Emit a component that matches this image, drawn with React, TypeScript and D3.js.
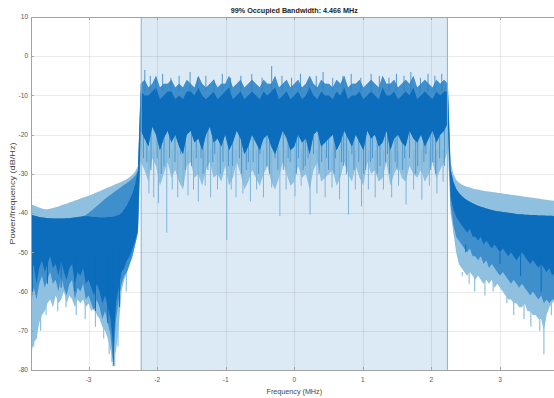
import React, { useEffect, useRef } from 'react';
import * as d3 from 'd3';

const W = 554;
const H = 398;

const titleText = '99% Occupied Bandwidth: 4.466 MHz';
const occupiedBw = 4.466;
const xTicks = [-3, -2, -1, 0, 1, 2, 3];
const yTicks = [10, 0, -10, -20, -30, -40, -50, -60, -70, -80];

// left skirt, f = -3.84 .. -2.28 (step 0.04)
const leftLightTop = [
	-37.8, -38.0, -38.3, -38.6, -38.8, -39.0, -39.0, -38.9, -38.7, -38.5,
	-38.3, -38.0, -37.8, -37.6, -37.3, -37.1, -36.8, -36.6, -36.3, -36.0,
	-35.8, -35.6, -35.3, -35.0, -34.7, -34.4, -34.1, -33.8, -33.5, -33.2,
	-32.9, -32.6, -32.3, -32.0, -31.7, -31.3, -30.8, -30.2, -29.4, -28.0
];
const leftMidTop = [
	-40.4, -40.6, -40.8, -41.0, -41.1, -41.2, -41.3, -41.3, -41.4, -41.4,
	-41.4, -41.4, -41.4, -41.3, -41.3, -41.2, -41.1, -41.0, -40.9, -40.8,
	-40.5, -40.0, -39.4, -38.8, -38.2, -37.6, -37.0, -36.4, -35.8, -35.3,
	-34.8, -34.3, -33.8, -33.3, -32.8, -32.3, -31.8, -31.2, -30.4, -29.2
];
const leftDarkTop = [
	-40.4, -40.6, -40.8, -41.0, -41.1, -41.2, -41.3, -41.3, -41.4, -41.4,
	-41.4, -41.4, -41.4, -41.3, -41.3, -41.2, -41.1, -41.0, -40.9, -40.8,
	-40.8, -40.8, -40.9, -41.0, -41.0, -41.1, -41.1, -41.1, -41.0, -41.0,
	-40.9, -40.7, -40.5, -40.0, -39.0, -38.0, -36.5, -35.0, -32.5, -29.0
];
const leftDarkBot = [
	-56, -53, -58, -54, -52, -55, -53, -51, -54, -53,
	-56, -52, -55, -57, -54, -53, -58, -55, -56, -54,
	-58, -57, -59, -61, -58, -60, -63, -61, -64, -67,
	-74, -63, -59, -55, -54, -52, -51, -49, -47, -44
];
const leftMidBot = [
	-63, -59, -62, -58, -56, -59, -57, -55, -58, -57,
	-60, -56, -59, -61, -58, -57, -62, -59, -60, -58,
	-62, -61, -63, -65, -62, -64, -67, -65, -68, -71,
	-78, -67, -62, -58, -56, -55, -53, -51, -48, -45
];
const leftLightBot = [
	-76, -73, -72, -68, -66, -65, -63, -62, -64, -61,
	-63, -62, -60, -63, -61, -62, -64, -62, -63, -62,
	-64, -63, -65, -64, -66, -67, -69, -70, -72, -75,
	-78, -75, -69, -60, -57, -55, -53, -51, -48, -45
];

// occupied band, f = -2.24 .. 2.24 (81 points)
const bandLightTop = [
	-7, -6, -8, -7, -5, -8, -7, -7, -6, -8,
	-7, -8, -6, -7, -8, -5, -7, -8, -7, -6,
	-8, -7, -7, -5, -8, -7, -6, -8, -7, -6,
	-7, -8, -6, -7, -7, -5, -8, -7, -6, -8,
	-7, -6, -8, -7, -5, -7, -8, -6, -7, -7,
	-8, -6, -7, -5, -8, -7, -7, -6, -8, -7,
	-6, -7, -8, -5, -7, -7, -6, -8, -7, -6,
	-7, -5, -8, -7, -6, -7, -8, -6, -7, -6,
	-7
];
const bandDarkTop = [
	-9, -10, -10, -9, -8, -11, -10, -9, -9, -11,
	-10, -11, -9, -9, -10, -8, -10, -11, -10, -9,
	-11, -10, -9, -8, -11, -10, -9, -11, -10, -9,
	-10, -11, -9, -10, -9, -8, -11, -10, -9, -11,
	-10, -9, -11, -10, -8, -10, -11, -9, -10, -10,
	-11, -9, -10, -8, -11, -10, -10, -9, -11, -10,
	-9, -10, -11, -8, -10, -10, -9, -11, -10, -9,
	-10, -8, -11, -10, -9, -10, -11, -9, -10, -9,
	-9
];
const bandDarkBot = [
	-19, -21, -23, -18, -20, -24, -21, -19, -22, -20,
	-23, -25, -20, -19, -22, -21, -24, -20, -18, -22,
	-21, -23, -20, -24, -22, -19, -21, -25, -23, -20,
	-22, -24, -21, -20, -23, -25, -22, -19, -21, -24,
	-23, -20, -22, -21, -25, -20, -19, -23, -22, -21,
	-20, -24, -22, -19, -21, -23, -20, -22, -24, -19,
	-21, -20, -23, -22, -19, -24, -21, -20, -22, -23,
	-19, -21, -22, -20, -23, -21, -19, -22, -20, -19,
	-17
];
const bandLightBot = [
	-27, -29, -32, -26, -28, -33, -30, -27, -31, -29,
	-32, -34, -28, -27, -31, -30, -33, -29, -27, -31,
	-30, -32, -28, -33, -31, -27, -30, -34, -32, -29,
	-31, -33, -30, -28, -32, -34, -31, -27, -30, -33,
	-32, -28, -31, -30, -34, -29, -27, -32, -31, -30,
	-29, -33, -31, -27, -30, -32, -28, -31, -33, -27,
	-30, -29, -32, -31, -27, -33, -30, -28, -31, -32,
	-28, -30, -31, -29, -32, -30, -27, -31, -29, -27,
	-24
];

// right skirt, f = 2.28 .. 3.84 (step 0.04)
const rightLightTop = [
	-27.0, -30.0, -31.5, -32.2, -32.7, -33.0, -33.3, -33.5, -33.7, -33.9,
	-34.0, -34.2, -34.3, -34.4, -34.5, -34.6, -34.7, -34.8, -34.9, -35.0,
	-35.1, -35.2, -35.3, -35.4, -35.5, -35.6, -35.7, -35.8, -35.9, -36.0,
	-36.1, -36.2, -36.3, -36.4, -36.5, -36.6, -36.7, -36.8, -36.9, -37.0
];
const rightDarkTop = [
	-29.0, -32.0, -33.8, -34.8, -35.6, -36.2, -36.7, -37.1, -37.5, -37.8,
	-38.1, -38.4, -38.6, -38.8, -39.0, -39.2, -39.4, -39.5, -39.6, -39.7,
	-39.8, -39.9, -40.0, -40.1, -40.2, -40.3, -40.3, -40.4, -40.4, -40.5,
	-40.5, -40.5, -40.6, -40.6, -40.6, -40.7, -40.7, -40.7, -40.8, -40.8
];
const rightDarkBot = [
	-36, -39, -41, -42, -43, -44, -45, -44, -46, -46,
	-47, -46, -48, -47, -48, -49, -48, -49, -50, -49,
	-50, -51, -50, -51, -52, -51, -50, -51, -52, -53,
	-52, -53, -54, -53, -54, -55, -54, -56, -55, -56
];
const rightMidBot = [
	-38, -43, -46, -47, -48, -49, -50, -49, -51, -51,
	-52, -51, -53, -52, -54, -53, -54, -55, -56, -55,
	-56, -57, -58, -57, -58, -59, -58, -59, -60, -61,
	-60, -61, -62, -61, -63, -62, -63, -62, -62, -61
];
const rightLightBot = [
	-40, -45, -50, -53, -54, -55, -56, -55, -56, -57,
	-56, -57, -58, -57, -58, -57, -59, -58, -59, -60,
	-61, -62, -62, -63, -63, -64, -64, -63, -65, -65,
	-66, -66, -67, -67, -70, -66, -64, -63, -62, -61
];

// deep dips inside the band [MHz, dB/Hz]
const bandDips = [
	[-2.12, -35], [-2.05, -36], [-1.98, -37.5], [-1.86, -45], [-1.78, -34], [-1.70, -36],
	[-1.62, -33], [-1.55, -35.5], [-1.47, -34], [-1.40, -37], [-1.30, -33], [-1.22, -36],
	[-1.12, -34], [-0.985, -46.8], [-0.92, -34], [-0.85, -36], [-0.75, -35], [-0.64, -37],
	[-0.55, -34], [-0.45, -36], [-0.33, -33.5], [-0.21, -40.8], [-0.12, -34], [0.01, -35.7],
	[0.10, -33], [0.23, -40.4], [0.33, -35], [0.45, -36], [0.55, -33.5], [0.66, -36.5],
	[0.79, -40.4], [0.89, -34], [0.98, -38.3], [1.08, -34], [1.18, -36], [1.30, -34],
	[1.42, -36], [1.52, -33], [1.63, -37.8], [1.74, -34], [1.86, -36.6], [1.97, -33],
	[2.08, -35], [2.17, -32]
];
const bandStrands = [
	[-2.2, -26], [-2.15, -27], [-2.09, -29], [-2.0, -26], [-1.94, -30], [-1.9, -28],
	[-1.82, -26], [-1.74, -27], [-1.66, -25], [-1.59, -29], [-1.5, -28], [-1.43, -26],
	[-1.36, -26], [-1.33, -30], [-1.26, -29], [-1.19, -27], [-1.16, -25], [-1.08, -30],
	[-1.04, -27], [-0.96, -28], [-0.9, -28], [-0.8, -26], [-0.77, -30], [-0.7, -29],
	[-0.67, -27], [-0.6, -27], [-0.52, -30], [-0.5, -25], [-0.4, -28], [-0.36, -30],
	[-0.28, -26], [-0.24, -29], [-0.16, -29], [-0.09, -26], [-0.06, -27], [0.03, -30],
	[0.06, -26], [0.13, -29], [0.16, -28], [0.2, -26], [0.28, -25], [0.36, -30],
	[0.4, -27], [0.47, -26], [0.5, -29], [0.58, -30], [0.6, -26], [0.69, -27],
	[0.72, -28], [0.76, -30], [0.84, -25], [0.87, -29], [0.94, -27], [1.01, -30],
	[1.04, -29], [1.11, -27], [1.14, -26], [1.21, -30], [1.25, -28], [1.33, -27],
	[1.36, -25], [1.39, -30], [1.47, -27], [1.5, -29], [1.58, -29], [1.61, -26],
	[1.68, -26], [1.77, -30], [1.8, -28], [1.89, -27], [1.92, -25], [1.99, -29],
	[2.02, -27], [2.06, -30], [2.12, -26], [2.19, -28]
];
const bandPeaks = [
	[-2.18, -3.5], [-2.1, -5], [-2.02, -6], [-1.92, -4.5], [-1.8, -5.5], [-1.68, -5],
	[-1.52, -4], [-1.41, -5.5], [-1.29, -5], [-1.17, -6], [-1.05, -4.5], [-0.93, -5.5],
	[-0.78, -5], [-0.62, -4.5], [-0.47, -5.5], [-0.33, -2.5], [-0.18, -5], [-0.04, -5.5],
	[0.09, -4.5], [0.21, -6], [0.32, -5], [0.42, -4], [0.56, -5.5], [0.71, -5],
	[0.83, -4.5], [0.97, -5.5], [1.12, -4.5], [1.24, -5], [1.38, -5.5], [1.49, -4.5],
	[1.6, -5], [1.7, -4], [1.84, -5.5], [1.95, -4.5], [2.05, -5], [2.15, -4.5]
];

// dips in the two skirts [MHz, dB/Hz]
const skirtLightDips = [
	[-3.8, -74], [-3.76, -72], [-3.7, -70], [-3.62, -66], [-3.45, -65], [-3.33, -64],
	[-3.18, -66], [-3.05, -67], [-2.9, -69], [-2.78, -72], [-2.7, -76], [-2.66, -78],
	[-2.62, -79], [-2.57, -74], [-2.45, -60],
	[2.45, -56], [2.55, -58], [2.63, -60], [2.78, -61], [2.9, -60], [3.1, -63],
	[3.2, -66], [3.35, -67], [3.45, -69], [3.58, -70], [3.64, -76], [3.75, -66]
];
const skirtDarkDips = [
	[-3.82, -60], [-3.6, -58], [-3.4, -59], [-3.2, -60], [-2.9, -65], [-2.72, -68],
	[-2.64, -79], [-2.55, -64],
	[2.5, -48], [2.7, -50], [3.0, -53], [3.3, -56], [3.6, -60], [3.8, -62]
];

const leftFreq = d3.range(40).map(i => -3.84 + 0.04 * i);
const bandFreq = d3.range(81).map(i => -2.24 + 0.056 * i);
const rightFreq = d3.range(40).map(i => 2.28 + 0.04 * i);

export default function App() {
	const ref = useRef<SVGSVGElement>(null);

	useEffect(() => {
		const el = ref.current;
		if (!el) return;
		const svg = d3.select(el);
		svg.selectAll('*').remove();

		const margin = { top: 17, left: 31, bottom: 370, right: 557.6 };
		const x = d3.scaleLinear().domain([-3.84, 3.84]).range([margin.left, margin.right]);
		const y = d3.scaleLinear().domain([-80, 10]).range([margin.bottom, margin.top]);

		const lightTop = [...leftLightTop, ...bandLightTop, ...rightLightTop];
		const lightBot = [...leftLightBot, ...bandLightBot, ...rightLightBot];
		const midTop = [...leftMidTop, ...bandLightTop, ...rightDarkTop];
		const midBot = [...leftMidBot, ...bandDarkBot, ...rightMidBot];
		const darkTop = [...leftDarkTop, ...bandDarkTop, ...rightDarkTop];
		const darkBot = [...leftDarkBot, ...bandDarkBot, ...rightDarkBot];
		const rows = [...leftFreq, ...bandFreq, ...rightFreq].map((f, i) => ({
			f,
			lightTop: lightTop[i], lightBot: lightBot[i],
			midTop: midTop[i], midBot: midBot[i],
			darkTop: darkTop[i], darkBot: darkBot[i]
		}));

		const font = 'Liberation Sans, Arial, sans-serif';
		const light = '#8fc0df';
		const mid = '#3f8fcd';
		const dark = '#0b6dbb';

		svg.append('rect').attr('width', W).attr('height', H).attr('fill', '#fff');

		svg.append('clipPath').attr('id', 'plotClip')
			.append('rect')
			.attr('x', margin.left).attr('y', margin.top)
			.attr('width', margin.right - margin.left).attr('height', margin.bottom - margin.top);

		const plot = svg.append('g').attr('clip-path', 'url(#plotClip)');

		// occupied bandwidth patch
		plot.append('rect')
			.attr('x', x(-occupiedBw / 2))
			.attr('y', margin.top)
			.attr('width', x(occupiedBw / 2) - x(-occupiedBw / 2))
			.attr('height', margin.bottom - margin.top)
			.attr('fill', '#dceaf5');

		// grid
		plot.selectAll('.gx').data(xTicks).enter().append('line')
			.attr('x1', d => Math.round(x(d)) + 0.5).attr('x2', d => Math.round(x(d)) + 0.5)
			.attr('y1', margin.top).attr('y2', margin.bottom)
			.attr('stroke', '#000').attr('stroke-opacity', 0.08);
		plot.selectAll('.gy').data(yTicks).enter().append('line')
			.attr('y1', d => Math.round(y(d)) + 0.5).attr('y2', d => Math.round(y(d)) + 0.5)
			.attr('x1', margin.left).attr('x2', margin.right)
			.attr('stroke', '#000').attr('stroke-opacity', 0.08);

		const layer = (top: string, bot: string, color: string) => {
			const area = d3.area<any>()
				.x(d => x(d.f))
				.y0(d => y(d[bot]))
				.y1(d => y(d[top]));
			plot.append('path').datum(rows).attr('d', area).attr('fill', color);
		};
		const sticks = (data: number[][], from: number, color: string, w: number) => {
			plot.append('g').selectAll('line').data(data).enter().append('line')
				.attr('x1', d => x(d[0])).attr('x2', d => x(d[0]))
				.attr('y1', y(from)).attr('y2', d => y(d[1]))
				.attr('stroke', color).attr('stroke-width', w);
		};

		layer('lightTop', 'lightBot', light);
		sticks(skirtLightDips, -55, light, 1.2);
		sticks(bandDips, -24, '#7db4da', 1);
		layer('midTop', 'midBot', mid);
		sticks(bandStrands, -17, '#3a8bcb', 0.8);
		layer('darkTop', 'darkBot', dark);
		sticks(skirtDarkDips, -50, dark, 1);
		sticks(bandPeaks, -9, '#2f82c5', 0.8);

		// patch edges
		plot.selectAll('.edge').data([-occupiedBw / 2, occupiedBw / 2]).enter().append('line')
			.attr('x1', d => x(d)).attr('x2', d => x(d))
			.attr('y1', margin.top).attr('y2', margin.bottom)
			.attr('stroke', '#86b1d2').attr('stroke-width', 1);

		// axes box
		const axisColor = '#a3a3a3';
		svg.append('line').attr('x1', margin.left + 0.5).attr('x2', margin.left + 0.5)
			.attr('y1', margin.top).attr('y2', margin.bottom + 0.5).attr('stroke', axisColor);
		svg.append('line').attr('x1', margin.left).attr('x2', W)
			.attr('y1', margin.bottom + 0.5).attr('y2', margin.bottom + 0.5).attr('stroke', axisColor);
		svg.append('line').attr('x1', margin.left).attr('x2', W)
			.attr('y1', margin.top + 0.5).attr('y2', margin.top + 0.5).attr('stroke', axisColor);

		svg.selectAll('.ty').data(yTicks).enter().append('line')
			.attr('x1', margin.left).attr('x2', margin.left + 3)
			.attr('y1', d => Math.round(y(d)) + 0.5).attr('y2', d => Math.round(y(d)) + 0.5)
			.attr('stroke', axisColor);
		svg.selectAll('.tx').data(xTicks).enter().append('line')
			.attr('x1', d => Math.round(x(d)) + 0.5).attr('x2', d => Math.round(x(d)) + 0.5)
			.attr('y1', margin.bottom).attr('y2', margin.bottom - 3)
			.attr('stroke', axisColor);
		svg.selectAll('.tt').data(xTicks).enter().append('line')
			.attr('x1', d => Math.round(x(d)) + 0.5).attr('x2', d => Math.round(x(d)) + 0.5)
			.attr('y1', margin.top).attr('y2', margin.top + 3)
			.attr('stroke', axisColor);

		svg.selectAll('.ly').data(yTicks).enter().append('text')
			.attr('x', margin.left - 3).attr('y', d => y(d))
			.attr('dy', '0.35em').attr('text-anchor', 'end')
			.attr('font-family', font).attr('font-size', 6.5).attr('fill', '#555')
			.text(d => d);
		svg.selectAll('.lx').data(xTicks).enter().append('text')
			.attr('x', d => x(d)).attr('y', margin.bottom + 10)
			.attr('dy', '0.35em').attr('text-anchor', 'middle')
			.attr('font-family', font).attr('font-size', 6.5).attr('fill', '#555')
			.text(d => d);

		svg.append('text')
			.attr('x', x(0)).attr('y', 13)
			.attr('text-anchor', 'middle')
			.attr('font-family', font).attr('font-size', 7.2).attr('font-weight', 'bold').attr('fill', '#222')
			.text(titleText);
		svg.append('text')
			.attr('x', x(0)).attr('y', 393.5)
			.attr('text-anchor', 'middle')
			.attr('font-family', font).attr('font-size', 7.2).attr('fill', '#444')
			.text('Frequency (MHz)');
		svg.append('text')
			.attr('transform', `translate(15,${(margin.top + margin.bottom) / 2}) rotate(-90)`)
			.attr('text-anchor', 'middle')
			.attr('font-family', font).attr('font-size', 7.6).attr('fill', '#444')
			.attr('textLength', 102).attr('lengthAdjust', 'spacingAndGlyphs')
			.text('Power/frequency (dB/Hz)');

		return () => { svg.selectAll('*').remove(); };
	}, []);

	return (
		<svg
			ref={ref}
			width={W}
			height={H}
			style={{ position: 'absolute', left: 0, top: 0, display: 'block' }}
		/>
	);
}
